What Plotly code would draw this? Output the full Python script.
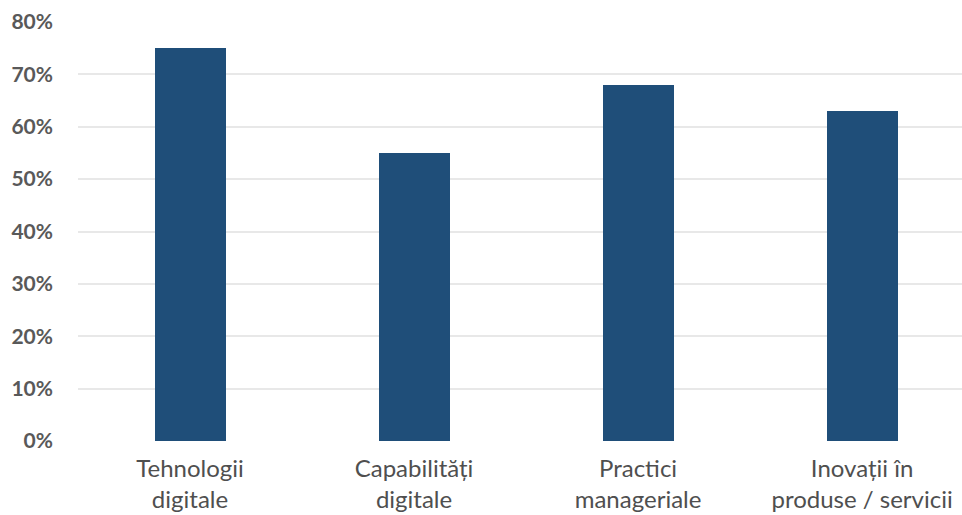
import plotly.graph_objects as go

# Share of firms reporting each type of digital change
categories = ["Tehnologii<br>digitale", "Capabilități<br>digitale",
              "Practici<br>manageriale", "Inovații în<br>produse / servicii"]
values = [0.75, 0.55, 0.68, 0.63]
y_ticks = [0, 0.1, 0.2, 0.3, 0.4, 0.5, 0.6, 0.7, 0.8]
y_tick_labels = ["0%", "10%", "20%", "30%", "40%", "50%", "60%", "70%", "80%"]

fig = go.Figure(go.Bar(
    x=list(range(len(categories))),
    y=values,
    width=0.317,
    marker=dict(color="#1f4e79", line=dict(width=0)),
    hoverinfo="skip",
))

fig.update_layout(
    width=962, height=515,
    margin=dict(l=78, r=0, t=22, b=74),
    paper_bgcolor="white", plot_bgcolor="white",
    font=dict(family="Lato, Calibri, sans-serif", color="#595959"),
    showlegend=False,
    bargap=0,
)

fig.update_xaxes(
    tickmode="array",
    tickvals=list(range(len(categories))),
    ticktext=categories,
    range=[-0.5, 3.446],
    showgrid=False, zeroline=False, showline=False,
    ticks="", ticklabelstandoff=11,
    tickfont=dict(size=24, color="#4f4f4f"),
)

fig.update_yaxes(
    range=[0, 0.8],
    tickmode="array",
    tickvals=y_ticks,
    ticktext=y_tick_labels,
    showgrid=True, gridcolor="#e8e8e8", gridwidth=2,
    zeroline=False, showline=False,
    ticks="", ticklabelstandoff=24,
    tickfont=dict(size=21, color="#595959", weight="bold"),
)

fig.write_html("out.html")
